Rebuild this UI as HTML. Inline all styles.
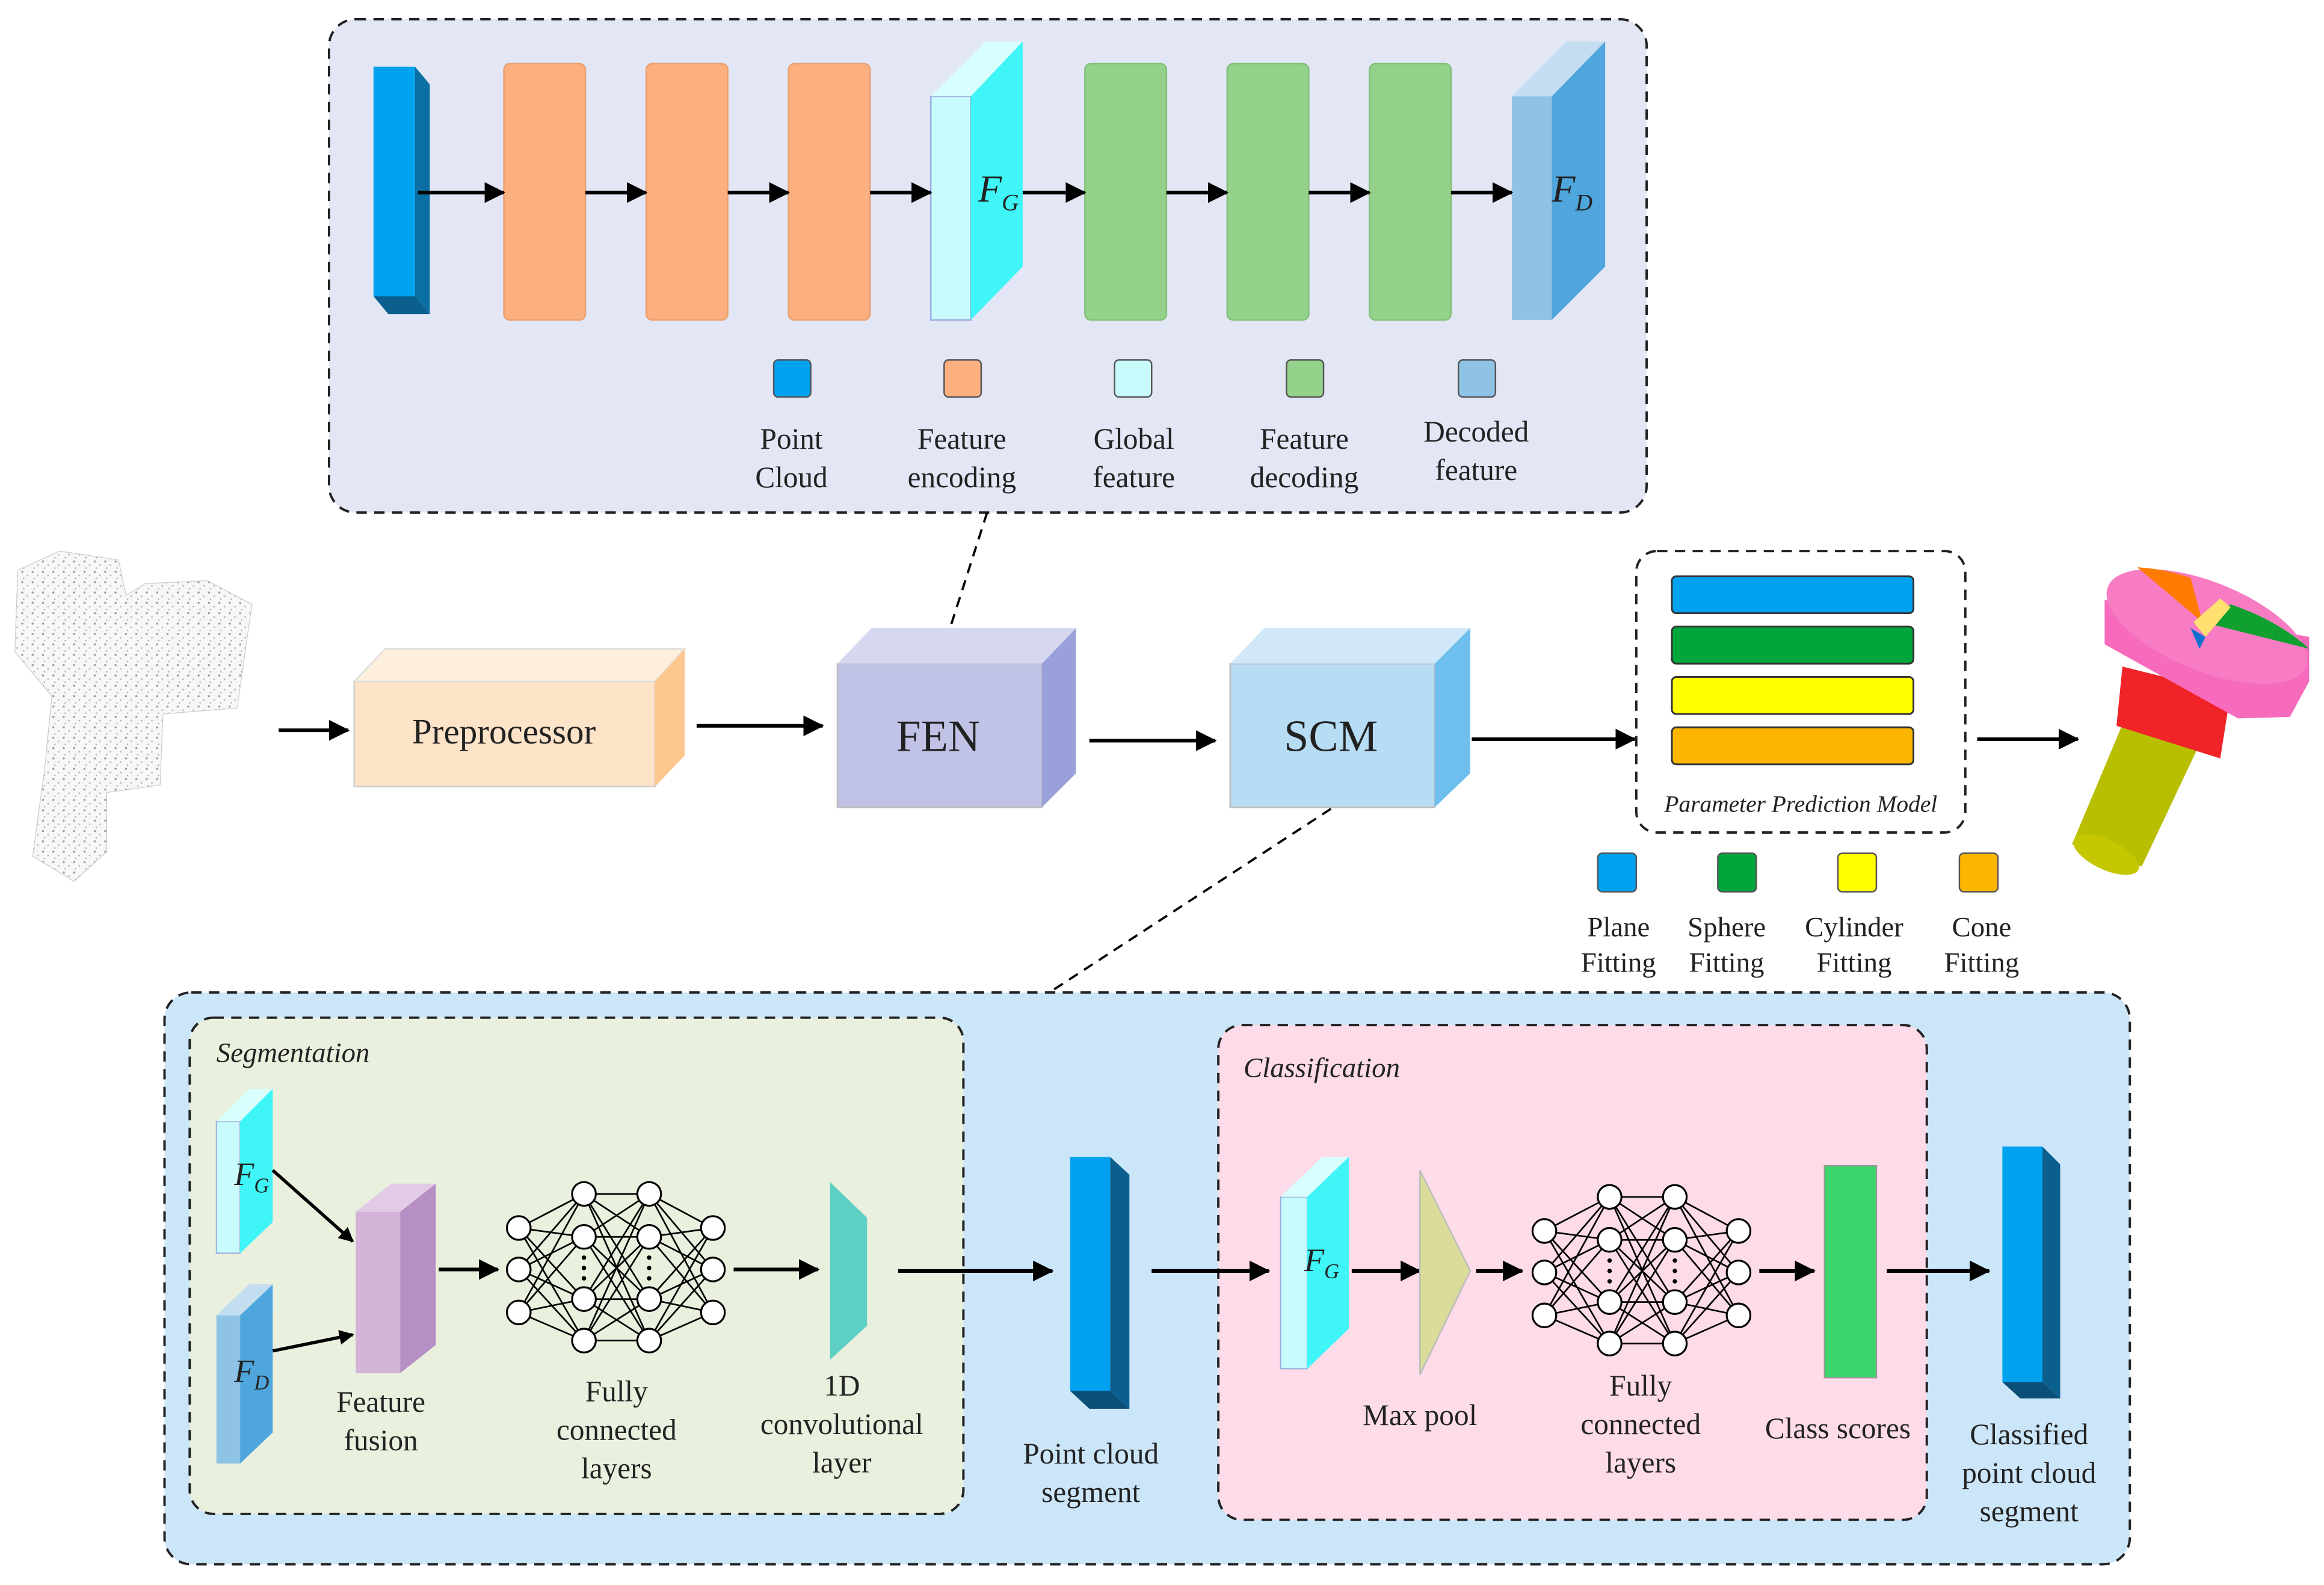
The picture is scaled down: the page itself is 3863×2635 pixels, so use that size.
<!DOCTYPE html>
<html><head><meta charset="utf-8"><style>
html,body{margin:0;padding:0;background:#fff}
svg{display:block}
text{font-family:"Liberation Serif",serif;fill:#222}
</style></head><body>
<svg width="3863" height="2635" viewBox="0 0 1568 1070" preserveAspectRatio="none" xmlns="http://www.w3.org/2000/svg">
<defs>
<marker id="ar" markerWidth="10" markerHeight="10" refX="9" refY="5" orient="auto" markerUnits="userSpaceOnUse"><path d="M0,0 L10,5 L0,10 z" fill="#000"/></marker>
<marker id="ar2" markerWidth="14" markerHeight="14" refX="13" refY="7" orient="auto" markerUnits="userSpaceOnUse"><path d="M0,0 L14,7 L0,14 z" fill="#000"/></marker>
<pattern id="dots" width="7" height="7" patternUnits="userSpaceOnUse"><rect width="7" height="7" fill="#f7f7f7"/><circle cx="1" cy="1" r="0.7" fill="#999"/><circle cx="4.5" cy="3.5" r="0.6" fill="#bbb"/><circle cx="2" cy="5.5" r="0.5" fill="#aaa"/></pattern>
</defs>

<!-- Top panel -->
<rect x="222" y="13" width="889" height="333" rx="18" fill="#e3e6f5" stroke="#222" stroke-width="1.6" stroke-dasharray="7,5"/>
<rect x="252" y="45" width="28" height="155" fill="#00a2f0"/>
<polygon points="280,45 290,57 290,212 280,200" fill="#0b6fa3"/>
<polygon points="252,200 280,200 290,212 262,212" fill="#0b5f8f"/>
<g fill="#fdb07f" stroke="#e9a070"><rect x="340" y="43" width="55" height="173" rx="4"/><rect x="436" y="43" width="55" height="173" rx="4"/><rect x="532" y="43" width="55" height="173" rx="4"/></g>
<polygon points="628,65 655,65 655,216 628,216" fill="#c8fcfc" stroke="#9ad"/>
<polygon points="655,65 690,28 690,180 655,216" fill="#3ff5f8"/>
<polygon points="628,65 665,28 690,28 655,65" fill="#d8fefe"/>
<text x="660" y="136" font-size="26" font-style="italic">F<tspan font-size="16" dy="6">G</tspan></text>
<g fill="#94d18a" stroke="#82c078"><rect x="732" y="43" width="55" height="173" rx="4"/><rect x="828" y="43" width="55" height="173" rx="4"/><rect x="924" y="43" width="55" height="173" rx="4"/></g>
<polygon points="1020,65 1047,65 1047,216 1020,216" fill="#8ec3e6"/>
<polygon points="1047,65 1083,28 1083,180 1047,216" fill="#4fa6dc"/>
<polygon points="1020,65 1057,28 1083,28 1047,65" fill="#c2def0"/>
<text x="1047" y="136" font-size="26" font-style="italic">F<tspan font-size="16" dy="6">D</tspan></text>
<g stroke="#000" stroke-width="2.5" marker-end="url(#ar2)">
<line x1="282" y1="130" x2="340" y2="130"/><line x1="395" y1="130" x2="436" y2="130"/><line x1="491" y1="130" x2="532" y2="130"/><line x1="587" y1="130" x2="628" y2="130"/><line x1="690" y1="130" x2="732" y2="130"/><line x1="787" y1="130" x2="828" y2="130"/><line x1="883" y1="130" x2="924" y2="130"/><line x1="979" y1="130" x2="1020" y2="130"/>
</g>
<g stroke="#555" stroke-width="1"><rect x="522" y="243" width="25" height="25" rx="3" fill="#00a2f0"/><rect x="637" y="243" width="25" height="25" rx="3" fill="#fdb07f"/><rect x="752" y="243" width="25" height="25" rx="3" fill="#c8fcfc"/><rect x="868" y="243" width="25" height="25" rx="3" fill="#94d18a"/><rect x="984" y="243" width="25" height="25" rx="3" fill="#8ec3e6"/></g>
<g font-size="20" text-anchor="middle">
<text x="534" y="303">Point</text><text x="534" y="329">Cloud</text>
<text x="649" y="303">Feature</text><text x="649" y="329">encoding</text>
<text x="765" y="303">Global</text><text x="765" y="329">feature</text>
<text x="880" y="303">Feature</text><text x="880" y="329">decoding</text>
<text x="996" y="298">Decoded</text><text x="996" y="324">feature</text>
</g>

<!-- Middle row -->
<g fill="url(#dots)" stroke="#ccc" stroke-width="0.5">
<polygon points="12,385 40,372 80,378 85,402 98,394 140,392 170,408 160,478 110,482 108,530 72,535 72,575 50,595 22,578 30,520 35,470 10,440"/>
</g>
<line x1="188" y1="493" x2="235" y2="493" stroke="#000" stroke-width="2.5" marker-end="url(#ar2)"/>
<rect x="239" y="460" width="203" height="71" fill="#fde3c8" stroke="#ccc"/>
<polygon points="239,460 260,438 462,438 442,460" fill="#fdeedd" stroke="#ddd"/>
<polygon points="442,460 462,438 462,510 442,531" fill="#fcc88f"/>
<text x="340" y="502" font-size="24" text-anchor="middle">Preprocessor</text>
<line x1="470" y1="490" x2="555" y2="490" stroke="#000" stroke-width="2.5" marker-end="url(#ar2)"/>
<rect x="565" y="448" width="138" height="97" fill="#c0c3e6" stroke="#bbb"/>
<polygon points="565,448 588,424 726,424 703,448" fill="#d6d8f0"/>
<polygon points="703,448 726,424 726,522 703,545" fill="#9aa0da"/>
<text x="633" y="507" font-size="30" text-anchor="middle">FEN</text>
<line x1="666" y1="346" x2="641" y2="424" stroke="#000" stroke-width="1.5" stroke-dasharray="7,5"/>
<line x1="735" y1="500" x2="820" y2="500" stroke="#000" stroke-width="2.5" marker-end="url(#ar2)"/>
<rect x="830" y="448" width="138" height="97" fill="#b7ddf5" stroke="#bbb"/>
<polygon points="830,448 853,424 992,424 968,448" fill="#d0e8f8"/>
<polygon points="968,448 992,424 992,522 968,545" fill="#6fbfee"/>
<text x="898" y="507" font-size="30" text-anchor="middle">SCM</text>
<line x1="993" y1="499" x2="1103" y2="499" stroke="#000" stroke-width="2.5" marker-end="url(#ar2)"/>
<rect x="1104" y="372" width="222" height="190" rx="14" fill="#fff" stroke="#222" stroke-width="1.6" stroke-dasharray="7,5"/>
<g stroke="#333" stroke-width="1.2"><rect x="1128" y="389" width="163" height="25" rx="3" fill="#00a2f0"/><rect x="1128" y="423" width="163" height="25" rx="3" fill="#00a63c"/><rect x="1128" y="457" width="163" height="25" rx="3" fill="#ffff00"/><rect x="1128" y="491" width="163" height="25" rx="3" fill="#fdb600"/></g>
<text x="1215" y="548" font-size="16" font-style="italic" text-anchor="middle">Parameter Prediction Model</text>
<line x1="1334" y1="499" x2="1402" y2="499" stroke="#000" stroke-width="2.5" marker-end="url(#ar2)"/>
<!-- colored object -->
<polygon points="1398,570 1440,470 1488,494 1445,585" fill="#b8be00"/>
<ellipse cx="1421" cy="577" rx="24" ry="10" fill="#c5c800" transform="rotate(25 1421 577)"/>
<polygon points="1432,450 1505,468 1498,512 1428,490" fill="#f02428"/>
<polygon points="1420,405 1420,435 1510,485 1545,484 1558,460 1558,430" fill="#f66bbb"/>
<ellipse cx="1489" cy="423" rx="72" ry="30" fill="#f77cc4" transform="rotate(22 1489 423)"/>
<path d="M1486,420 L1442,383 A72,30 22 0 1 1478,390 Z" fill="#ff7b00"/>
<path d="M1486,420 L1505,408 A72,30 22 0 1 1558,438 Z" fill="#10a030"/>
<polygon points="1480,420 1498,404 1505,410 1488,430" fill="#ffe070"/>
<polygon points="1478,424 1488,430 1484,438" fill="#1070d0"/>
<g stroke="#555" stroke-width="1"><rect x="1078" y="576" width="26" height="26" rx="3" fill="#00a2f0"/><rect x="1159" y="576" width="26" height="26" rx="3" fill="#00a63c"/><rect x="1240" y="576" width="26" height="26" rx="3" fill="#ffff00"/><rect x="1322" y="576" width="26" height="26" rx="3" fill="#fdb600"/></g>
<g font-size="19" text-anchor="middle">
<text x="1092" y="632">Plane</text><text x="1092" y="656">Fitting</text>
<text x="1165" y="632">Sphere</text><text x="1165" y="656">Fitting</text>
<text x="1251" y="632">Cylinder</text><text x="1251" y="656">Fitting</text>
<text x="1337" y="632">Cone</text><text x="1337" y="656">Fitting</text>
</g>
<line x1="898" y1="546" x2="708" y2="670" stroke="#000" stroke-width="1.5" stroke-dasharray="7,5"/>

<!-- Bottom panel -->
<rect x="111" y="670" width="1326" height="386" rx="18" fill="#cce6f9" stroke="#222" stroke-width="1.6" stroke-dasharray="7,5"/>
<rect x="128" y="687" width="522" height="335" rx="16" fill="#e9f0de" stroke="#222" stroke-width="1.6" stroke-dasharray="7,5"/>
<text x="146" y="717" font-size="19" font-style="italic">Segmentation</text>
<rect x="146" y="757" width="16" height="89" fill="#c8fcfc" stroke="#9ad" stroke-width="0.8"/>
<polygon points="162,757 184,735 184,825 162,846" fill="#3ff5f8"/>
<polygon points="146,757 168,735 184,735 162,757" fill="#d8fefe"/>
<text x="158" y="800" font-size="22" font-style="italic">F<tspan font-size="14" dy="5">G</tspan></text>
<rect x="146" y="888" width="16" height="100" fill="#8ec3e6"/>
<polygon points="162,888 184,867 184,967 162,988" fill="#4fa6dc"/>
<polygon points="146,888 168,867 184,867 162,888" fill="#c2def0"/>
<text x="158" y="933" font-size="22" font-style="italic">F<tspan font-size="14" dy="5">D</tspan></text>
<g stroke="#000" stroke-width="2.2" marker-end="url(#ar)"><line x1="184" y1="790" x2="238" y2="838"/><line x1="184" y1="912" x2="238" y2="901"/></g>
<rect x="240" y="818" width="30" height="109" fill="#d3b3d8"/>
<polygon points="270,818 294,799 294,908 270,927" fill="#b690c4"/>
<polygon points="240,818 264,799 294,799 270,818" fill="#e2cbe6"/>
<g font-size="20" text-anchor="middle"><text x="257" y="953">Feature</text><text x="257" y="979">fusion</text></g>
<line x1="296" y1="857" x2="336" y2="857" stroke="#000" stroke-width="2.5" marker-end="url(#ar2)"/>
<g id="nn1" stroke="#000" stroke-width="1.1">
<path d="M350,829 L394,806 M350,829 L394,835 M350,829 L394,877 M350,829 L394,905 M350,857 L394,806 M350,857 L394,835 M350,857 L394,877 M350,857 L394,905 M350,886 L394,806 M350,886 L394,835 M350,886 L394,877 M350,886 L394,905
M394,806 L438,806 M394,806 L438,835 M394,806 L438,877 M394,806 L438,905 M394,835 L438,806 M394,835 L438,835 M394,835 L438,877 M394,835 L438,905 M394,877 L438,806 M394,877 L438,835 M394,877 L438,877 M394,877 L438,905 M394,905 L438,806 M394,905 L438,835 M394,905 L438,877 M394,905 L438,905
M438,806 L481,829 M438,806 L481,857 M438,806 L481,886 M438,835 L481,829 M438,835 L481,857 M438,835 L481,886 M438,877 L481,829 M438,877 L481,857 M438,877 L481,886 M438,905 L481,829 M438,905 L481,857 M438,905 L481,886" fill="none"/>
<g fill="#fff" stroke-width="1.3">
<circle cx="350" cy="829" r="8"/><circle cx="350" cy="857" r="8"/><circle cx="350" cy="886" r="8"/>
<circle cx="394" cy="806" r="8"/><circle cx="394" cy="835" r="8"/><circle cx="394" cy="877" r="8"/><circle cx="394" cy="905" r="8"/>
<circle cx="438" cy="806" r="8"/><circle cx="438" cy="835" r="8"/><circle cx="438" cy="877" r="8"/><circle cx="438" cy="905" r="8"/>
<circle cx="481" cy="829" r="8"/><circle cx="481" cy="857" r="8"/><circle cx="481" cy="886" r="8"/>
</g>
<g fill="#000" stroke="none"><circle cx="394" cy="849" r="1.5"/><circle cx="394" cy="856" r="1.5"/><circle cx="394" cy="863" r="1.5"/><circle cx="438" cy="849" r="1.5"/><circle cx="438" cy="856" r="1.5"/><circle cx="438" cy="863" r="1.5"/></g>
</g>
<g font-size="20" text-anchor="middle"><text x="416" y="946">Fully</text><text x="416" y="972">connected</text><text x="416" y="998">layers</text></g>
<line x1="495" y1="857" x2="552" y2="857" stroke="#000" stroke-width="2.5" marker-end="url(#ar2)"/>
<polygon points="560,798 585,822 585,895 560,918" fill="#5ecfc4"/>
<g font-size="20" text-anchor="middle"><text x="568" y="942">1D</text><text x="568" y="968">convolutional</text><text x="568" y="994">layer</text></g>
<line x1="606" y1="858" x2="710" y2="858" stroke="#000" stroke-width="2.5" marker-end="url(#ar2)"/>
<rect x="722" y="781" width="27" height="158" fill="#00a2f0"/>
<polygon points="749,781 762,793 762,951 749,939" fill="#0b5f8f"/>
<polygon points="722,939 749,939 762,951 735,951" fill="#0a4f78"/>
<g font-size="20" text-anchor="middle"><text x="736" y="988">Point cloud</text><text x="736" y="1014">segment</text></g>

<rect x="822" y="692" width="478" height="334" rx="16" fill="#fddbe8" stroke="#222" stroke-width="1.6" stroke-dasharray="7,5"/>
<line x1="777" y1="858" x2="856" y2="858" stroke="#000" stroke-width="2.5" marker-end="url(#ar2)"/>
<text x="839" y="727" font-size="19" font-style="italic">Classification</text>
<rect x="864" y="808" width="18" height="116" fill="#c8fcfc" stroke="#9ad" stroke-width="0.8"/>
<polygon points="882,808 910,781 910,897 882,924" fill="#3ff5f8"/>
<polygon points="864,808 892,781 910,781 882,808" fill="#d8fefe"/>
<text x="880" y="858" font-size="22" font-style="italic">F<tspan font-size="14" dy="5">G</tspan></text>
<line x1="912" y1="858" x2="958" y2="858" stroke="#000" stroke-width="2.5" marker-end="url(#ar2)"/>
<polygon points="958,790 992,858 958,928" fill="#dcdc9a" stroke="#bbb"/>
<text x="958" y="962" font-size="20" text-anchor="middle">Max pool</text>
<line x1="996" y1="858" x2="1027" y2="858" stroke="#000" stroke-width="2.5" marker-end="url(#ar2)"/>
<use href="#nn1" transform="translate(692,2)"/>
<g font-size="20" text-anchor="middle"><text x="1107" y="942">Fully</text><text x="1107" y="968">connected</text><text x="1107" y="994">layers</text></g>
<line x1="1187" y1="858" x2="1224" y2="858" stroke="#000" stroke-width="2.5" marker-end="url(#ar2)"/>
<rect x="1231" y="787" width="35" height="143" fill="#3ad66c" stroke="#999"/>
<text x="1240" y="971" font-size="20" text-anchor="middle">Class scores</text>
<line x1="1273" y1="858" x2="1342" y2="858" stroke="#000" stroke-width="2.5" marker-end="url(#ar2)"/>
<rect x="1351" y="774" width="27" height="159" fill="#00a2f0"/>
<polygon points="1378,774 1390,786 1390,944 1378,933" fill="#0b5f8f"/>
<polygon points="1351,933 1378,933 1390,944 1363,944" fill="#0a4f78"/>
<g font-size="20" text-anchor="middle"><text x="1369" y="975">Classified</text><text x="1369" y="1001">point cloud</text><text x="1369" y="1027">segment</text></g>
</svg>
</body></html>
